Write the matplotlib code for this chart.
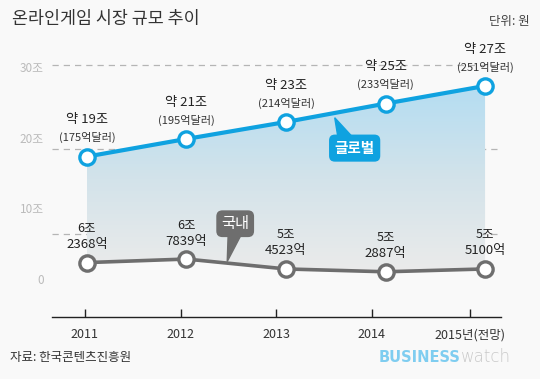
import numpy as np
import matplotlib.pyplot as plt
from matplotlib.patches import Polygon
from matplotlib.colors import LinearSegmentedColormap

plt.rcParams['font.family'] = ['Noto Sans CJK KR', 'DejaVu Sans']

years = ['2011', '2012', '2013', '2014', '2015년(전망)']
# plotted heights (not to scale with the labels)
global_vals = [17.3, 19.8, 22.2, 24.8, 27.3]
domestic_vals = [2.3, 2.8, 1.4, 1.0, 1.4]
global_labels = ['약 19조', '약 21조', '약 23조', '약 25조', '약 27조']
global_usd = ['(175억달러)', '(195억달러)', '(214억달러)', '(233억달러)', '(251억달러)']
domestic_top = ['6조', '6조', '5조', '5조', '5조']
domestic_bottom = ['2368억', '7839억', '4523억', '2887억', '5100억']
ytick_vals = [0, 10, 20, 30]
ytick_labels = ['0', '10조', '20조', '30조']
grid_vals = [6.4, 18.4, 30.3]

bg = '#f9f9f9'
blue = '#0fa2e0'
gray = '#6e6e6e'

fig = plt.figure(figsize=(5.4, 3.79), dpi=100, facecolor=bg)
ax = fig.add_axes([52 / 540, 1 - 317 / 379, 449 / 540, 277 / 379])
ax.set_facecolor(bg)
x = np.arange(len(years))
ax.set_xlim(-0.35, 4.16)
ax.set_ylim(-5.4, 33.8)

for g in grid_vals:
    ax.axhline(g, color='#b5b5b5', lw=0.9, ls=(0, (5, 4)), zorder=1)

# gradient fill between the two lines
grad = LinearSegmentedColormap.from_list('g', ['#ebebeb', '#d3e3ea', '#b4ddf2'])
img = ax.imshow(np.linspace(0, 1, 256).reshape(-1, 1), cmap=grad, aspect='auto',
                extent=[x[0], x[-1], min(domestic_vals), max(global_vals)],
                origin='lower', zorder=1.5)
poly = Polygon(list(zip(x, global_vals)) + list(zip(x[::-1], domestic_vals[::-1])),
               closed=True, transform=ax.transData)
img.set_clip_path(poly)

ax.plot(x, global_vals, color=blue, lw=3, marker='o', ms=11, mfc='white',
        mec=blue, mew=2.4, zorder=4)
ax.plot(x, domestic_vals, color=gray, lw=2.6, marker='o', ms=11, mfc='white',
        mec=gray, mew=2.4, zorder=4)

for xi, v, l1, l2 in zip(x, global_vals, global_labels, global_usd):
    ax.annotate(l1, (xi, v), xytext=(0, 26.5), textcoords='offset points',
                ha='center', va='center', fontsize=9.5, color='#222222')
    ax.annotate(l2, (xi, v), xytext=(0, 13.5), textcoords='offset points',
                ha='center', va='center', fontsize=8, color='#333333')
for xi, v, l1, l2 in zip(x, domestic_vals, domestic_top, domestic_bottom):
    ax.annotate(l1, (xi, v), xytext=(0, 24.5), textcoords='offset points',
                ha='center', va='center', fontsize=9, color='#222222')
    ax.annotate(l2, (xi, v), xytext=(0, 13), textcoords='offset points',
                ha='center', va='center', fontsize=9.5, color='#222222')

# callouts
ax.add_patch(Polygon([(2.52, 20.2), (2.66, 20.2), (2.49, 22.8)], closed=True,
                     color=blue, zorder=5))
ax.text(2.69, 18.5, '글로벌', ha='center', va='center', fontsize=10.5,
        color='white', fontweight='bold', zorder=6,
        bbox=dict(boxstyle='round,pad=0.38,rounding_size=0.4', fc=blue, ec='none'))
ax.add_patch(Polygon([(1.42, 6.5), (1.56, 6.5), (1.41, 2.45)], closed=True,
                     color=gray, zorder=5))
ax.text(1.49, 7.8, '국내', ha='center', va='center', fontsize=11,
        color='white', zorder=6,
        bbox=dict(boxstyle='round,pad=0.32,rounding_size=0.4', fc=gray, ec='none'))

tick_pos = [-0.02, 0.945, 1.9, 2.86, 3.85]
ax.set_xticks(tick_pos)
ax.set_xticklabels(years, fontsize=9, color='#333333')
ax.tick_params(axis='x', direction='in', length=6, width=1, color='#222222', pad=8)
ax.set_yticks(ytick_vals)
ax.set_yticklabels(ytick_labels, fontsize=8.5, color='#bbbbbb')
ax.tick_params(axis='y', length=0, pad=6)
for s in ['top', 'right', 'left']:
    ax.spines[s].set_visible(False)
ax.spines['bottom'].set_color('#222222')
ax.spines['bottom'].set_linewidth(1)

fig.text(12 / 540, 1 - 19 / 379, '온라인게임 시장 규모 추이', fontsize=12.5,
         color='#333333', va='center', ha='left')
fig.text(530 / 540, 1 - 22 / 379, '단위: 원', fontsize=9, color='#444444',
         va='center', ha='right')
fig.text(10 / 540, 1 - 357 / 379, '자료: 한국콘텐츠진흥원', fontsize=9,
         color='#333333', va='center', ha='left')
fig.text(460 / 540, 1 - 357 / 379, 'BUSINESS', fontsize=10.5, fontweight='heavy',
         color='#7fcdf0', va='center', ha='right', family='DejaVu Sans')
fig.text(461 / 540, 1 - 357 / 379, 'watch', fontsize=12, color='#c9c9c9',
         va='center', ha='left', family='DejaVu Sans', fontweight='light')

fig.savefig('out.png', dpi=100, facecolor=bg)
